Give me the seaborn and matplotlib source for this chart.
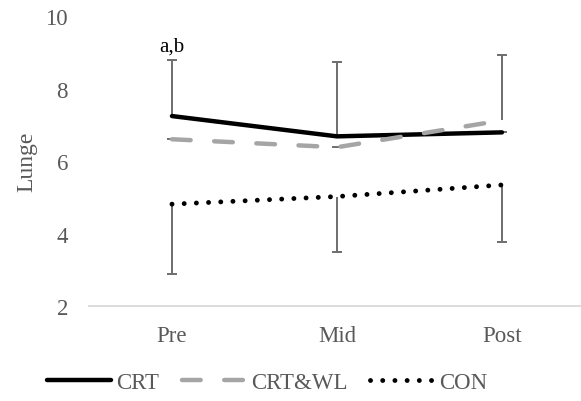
import matplotlib
matplotlib.use("Agg")
import numpy as np
import pandas as pd
import matplotlib.pyplot as plt
from matplotlib.lines import Line2D
import seaborn as sns

# values
times = ["Pre", "Mid", "Post"]
crt = [7.24, 6.68, 6.79]
crt_wl = [6.60, 6.38, 7.12]
con = [4.81, 5.02, 5.34]

# one-sided error bars (upper for CRT / CRT&WL, lower for CON)
crt_up = [1.55, 2.04, 0.0]
crt_wl_up = [0.0, 0.0, 1.80]
con_down = [1.93, 1.52, 1.58]

y_ticks = [2, 4, 6, 8, 10]
series_names = ["CRT", "CRT&WL", "CON"]

sns.set_style("white")
plt.rcParams["font.family"] = ["Liberation Serif", "DejaVu Serif"]

df = pd.DataFrame({
    "time": times * 3,
    "value": crt + crt_wl + con,
    "group": [n for n in series_names for _ in times],
})

fig = plt.figure(figsize=(5.81, 4.02), dpi=100)
ax = fig.add_axes([0.154, 0.2363, 0.852, 0.7214])

err_col = "#6e6e6e"
cap = 0.032
x = np.arange(len(times))


def one_sided(vals, err, sign):
    vals = np.asarray(vals)
    err = np.asarray(err)
    ends = vals + sign * err
    ax.vlines(x, vals, ends, color=err_col, lw=1.4, zorder=1)
    ax.hlines(ends, x - cap, x + cap, color=err_col, lw=1.4, zorder=1)


one_sided(crt, crt_up, 1)
one_sided(crt_wl, crt_wl_up, 1)
one_sided(con, con_down, -1)

styles = {
    "CRT": dict(color="black", lw=3.2, linestyle="-"),
    "CRT&WL": dict(color="#a5a5a5", lw=3.2, linestyle=(0, (4.2, 5.3))),
    "CON": dict(color="black", lw=3.5, linestyle=(0, (0.01, 2.5))),
}
for name in series_names:
    sub = df[df["group"] == name]
    sns.lineplot(data=sub, x="time", y="value", ax=ax, sort=False,
                 solid_capstyle="round", dash_capstyle="round", zorder=3,
                 legend=False, **styles[name])

ax.text(0, 8.9, "a,b", ha="center", va="bottom", fontsize=15, color="black")

ax.set_xlim(-0.5, 2.5)
ax.set_ylim(2, 10)
ax.set_yticks(y_ticks)
ax.set_xlabel("")
ax.set_ylabel("Lunge", fontsize=17, color="#595959", labelpad=6)
ax.tick_params(axis="both", length=0, labelsize=16.5, labelcolor="#595959")
ax.tick_params(axis="y", pad=15.5)
ax.tick_params(axis="x", pad=14)

for s in ["top", "right", "left"]:
    ax.spines[s].set_visible(False)
ax.spines["bottom"].set_color("#d9d9d9")
ax.spines["bottom"].set_linewidth(1.3)

handles = [Line2D([], [], solid_capstyle="round", dash_capstyle="round",
                  **styles[n]) for n in series_names]
leg = ax.legend(handles, series_names, loc="center",
                bbox_to_anchor=(0.359, -0.265),
                ncol=3, frameon=False, fontsize=16.5, handlelength=2.8,
                handletextpad=0.2, columnspacing=1.0)
for t in leg.get_texts():
    t.set_color("#595959")

fig.savefig("out.png", dpi=100)
